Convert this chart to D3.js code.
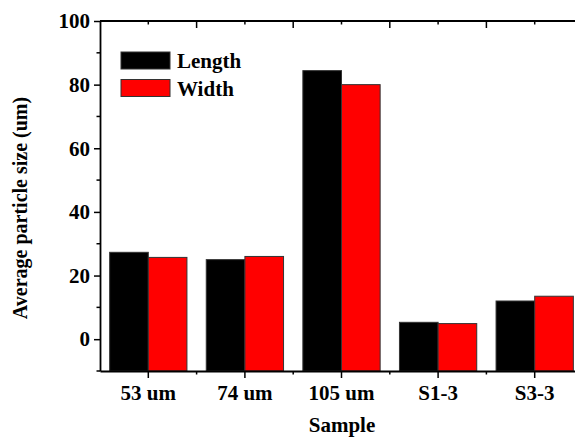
<!DOCTYPE html>
<html lang="en">
<head>
  <meta charset="UTF-8">
  <title>Average particle size</title>
  <style>
    body { margin: 0; background: #ffffff }
    svg { display: block }
    text { font-family: "Liberation Serif", "Times New Roman", serif; font-weight: bold; fill: #000 }
  </style>
</head>
<body>
  <svg id="thesvg" width="575" height="438"></svg>
  <script src="https://d3js.org/d3.v7.min.js"></script>
  <script>
    var samples = ["53 um", "74 um", "105 um", "S1-3", "S3-3"];
    var seriesNames = ["Length", "Width"];
    var seriesColours = ["#000000", "#ff0000"];
    var lengthVals = [27.3, 25.0, 84.4, 5.3, 12.0];
    var widthVals = [25.7, 26.0, 80.0, 4.9, 13.5];
    var yTicks = [0, 20, 40, 60, 80, 100];

    var svg = d3.select("svg");
    var mLeft = 100, mRight = 583, mTop = 21, mBottom = 371;

    var x = d3.scaleBand().domain(samples).range([mLeft, mRight]).paddingInner(0.2).paddingOuter(0.1);
    var x0 = d3.scaleBand().domain(samples).range([mLeft, mRight]);
    var xs = d3.scaleBand().domain(seriesNames).range([0, x.bandwidth()]);
    var y = d3.scaleLinear().domain([-10, 100]).range([mBottom, mTop]);

    var data = samples.map((s, i) => ({ s: s, vals: [lengthVals[i], widthVals[i]] }));

    // bars
    var groups = svg.selectAll(".grp")
      .data(data)
      .enter()
      .append("g")
      .attr("transform", d => "translate(" + x(d.s) + ",0)");

    groups.selectAll("rect")
      .data(d => d.vals.map((v, j) => ({ v: v, k: seriesNames[j], c: seriesColours[j] })))
      .enter()
      .append("rect")
      .attr("x", d => xs(d.k))
      .attr("y", d => y(d.v))
      .attr("width", xs.bandwidth())
      .attr("height", d => mBottom - y(d.v))
      .attr("fill", d => d.c)
      .attr("stroke", "#333")
      .attr("stroke-width", 1);

    // left axis with minor ticks
    var yMinor = d3.range(-10, 101, 10).filter(v => yTicks.indexOf(v) < 0);
    var yAxis = svg.append("g").attr("transform", "translate(" + mLeft + ",0)");
    yAxis.call(d3.axisLeft(y).tickValues(yTicks).tickSize(6).tickPadding(4).tickSizeOuter(0));
    yAxis.selectAll("line").attr("stroke-width", 1.5);
    yAxis.selectAll("path").attr("stroke-width", 1.8);
    yAxis.selectAll("text").style("font-family", "Liberation Serif").style("font-weight", "bold").style("font-size", "21px");
    yAxis.selectAll(".minor").data(yMinor).enter().append("line")
      .attr("x1", 0).attr("x2", -3.5).attr("y1", d => y(d)).attr("y2", d => y(d))
      .attr("stroke", "#000").attr("stroke-width", 1.5);

    // bottom axis
    var xAxis = svg.append("g").attr("transform", "translate(0," + mBottom + ")");
    xAxis.call(d3.axisBottom(x0).tickSize(7).tickPadding(7).tickSizeOuter(0));
    xAxis.selectAll("line").attr("stroke-width", 1.5);
    xAxis.selectAll("path").attr("stroke-width", 1.8);
    xAxis.selectAll("text").style("font-family", "Liberation Serif").style("font-weight", "bold").style("font-size", "21px");
    var xMinor = samples.slice(1).map(s => x0(s));
    xAxis.selectAll(".minor").data(xMinor).enter().append("line")
      .attr("x1", d => d).attr("x2", d => d).attr("y1", 0).attr("y2", 3.5)
      .attr("stroke", "#000").attr("stroke-width", 1.5);

    // top frame line with inward ticks
    var topAxis = svg.append("g");
    topAxis.append("line").attr("x1", mLeft).attr("x2", 575).attr("y1", mTop).attr("y2", mTop)
      .attr("stroke", "#000").attr("stroke-width", 1.8);
    topAxis.selectAll(".tmaj").data(xMinor).enter().append("line")
      .attr("x1", d => d).attr("x2", d => d).attr("y1", mTop).attr("y2", mTop + 7)
      .attr("stroke", "#000").attr("stroke-width", 1.5);
    topAxis.selectAll(".tmin").data(samples).enter().append("line")
      .attr("x1", d => x0(d) + x0.bandwidth() / 2).attr("x2", d => x0(d) + x0.bandwidth() / 2)
      .attr("y1", mTop).attr("y2", mTop + 3.5)
      .attr("stroke", "#000").attr("stroke-width", 1.5);

    // axis titles
    svg.append("text")
      .attr("x", 342).attr("y", 432)
      .attr("text-anchor", "middle")
      .style("font-size", "21px")
      .text("Sample");

    svg.append("text")
      .attr("transform", "translate(27,208) rotate(-90)")
      .attr("text-anchor", "middle")
      .style("font-size", "20px")
      .text("Average particle size (um)");

    // legend
    var legend = svg.selectAll(".leg")
      .data(seriesNames)
      .enter()
      .append("g")
      .attr("transform", (d, i) => "translate(121," + (52 + i * 27.5) + ")");
    legend.append("rect")
      .attr("width", 49).attr("height", 17)
      .attr("fill", (d, i) => seriesColours[i])
      .attr("stroke", "#333").attr("stroke-width", 1);
    legend.append("text")
      .attr("x", 56).attr("y", 16)
      .style("font-size", "21px")
      .text(d => d);
  </script>
</body>
</html>
